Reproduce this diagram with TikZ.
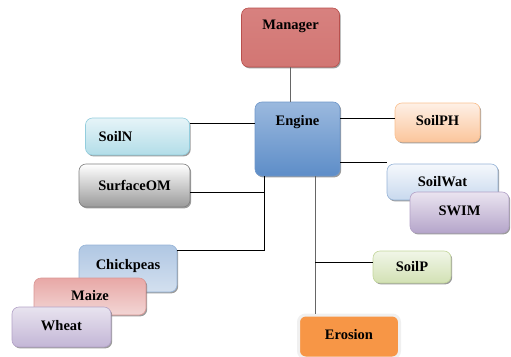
\documentclass[tikz,border=0pt]{standalone}
\usepackage{fontspec}
\setmainfont{Liberation Serif}
\newfontfamily\boxfont{Liberation Serif}
\usetikzlibrary{shadows}
\definecolor{mgrA}{HTML}{D7817F}
\definecolor{mgrB}{HTML}{C0504D}
\definecolor{mgrC}{HTML}{D27673}
\definecolor{mgrE}{HTML}{B9504D}
\definecolor{engA}{HTML}{9BB9DE}
\definecolor{engB}{HTML}{4F81BD}
\definecolor{engC}{HTML}{5D8DC8}
\definecolor{engE}{HTML}{6F97CA}
\definecolor{nA}{HTML}{E6F4F8}
\definecolor{nB}{HTML}{B2DDE8}
\definecolor{nE}{HTML}{93CDDD}
\definecolor{sA}{HTML}{FFFFFF}
\definecolor{sB}{HTML}{9A9A9A}
\definecolor{sE}{HTML}{7F7F7F}
\definecolor{phA}{HTML}{FEF0E6}
\definecolor{phB}{HTML}{FBC59B}
\definecolor{phE}{HTML}{FAC090}
\definecolor{wA}{HTML}{F5F8FC}
\definecolor{wB}{HTML}{C8D9EE}
\definecolor{wE}{HTML}{95B3D7}
\definecolor{swA}{HTML}{EAE4F0}
\definecolor{swB}{HTML}{B5A5CA}
\definecolor{swE}{HTML}{8064A2}
\definecolor{cA}{HTML}{B0C7E3}
\definecolor{cB}{HTML}{DCE6F2}
\definecolor{cE}{HTML}{95B3D7}
\definecolor{mzA}{HTML}{E8A8A6}
\definecolor{mzB}{HTML}{F4DEDD}
\definecolor{mzE}{HTML}{D99694}
\definecolor{whA}{HTML}{E8E3EF}
\definecolor{whB}{HTML}{C3B6D6}
\definecolor{whE}{HTML}{B3A2C7}
\definecolor{pA}{HTML}{F1F6E8}
\definecolor{pB}{HTML}{D2E1B4}
\definecolor{pE}{HTML}{C3D69B}
\definecolor{eroF}{HTML}{F79646}
\begin{document}
\begin{tikzpicture}[x=1pt,y=-1pt,
  txt/.style={font=\boxfont\bfseries\fontsize{14.5}{17}\selectfont, inner sep=1pt},
  box/.style={rectangle, rounded corners=7pt, line width=0.6pt, inner sep=2pt,
    font=\boxfont\bfseries\fontsize{14.5}{17}\selectfont,
    drop shadow={shadow xshift=1.2pt, shadow yshift=-1.4pt, fill=black!65, opacity=0.6}},
  conn/.style={line width=0.8pt, draw=black},
  gconn/.style={line width=0.8pt, draw=black!60}]
\useasboundingbox (0,0) rectangle (511,356);

% Manager and Engine
\node[box, draw=mgrE, top color=mgrA, middle color=mgrB, bottom color=mgrC,
  minimum width=98pt, minimum height=59pt] (manager) at (290.5,37.5) {};
\node[txt] (managerlabel) at ([yshift=-19pt]manager.north) {Manager};
\node[box, draw=engE, top color=engA, middle color=engB, bottom color=engC,
  minimum width=85pt, minimum height=74pt] (engine) at (297.5,139) {};
\node[txt] (enginelabel) at ([yshift=-20pt]engine.north) {Engine};

% left side
\node[box, draw=nE, top color=nA, bottom color=nB,
  minimum width=104pt, minimum height=37pt] (soiln) at (137.5,136.5) {SoilN\kern44pt};
\node[box, draw=sE, top color=sA, bottom color=sB,
  minimum width=111pt, minimum height=43pt] (surf) at (134.5,185.5) {SurfaceOM};
\node[box, draw=cE, top color=cA, middle color=cB, bottom color=cB!80!cA,
  minimum width=98pt, minimum height=47pt] (chick) at (128,268.5) {\raisebox{8pt}{Chickpeas}};
\node[box, draw=mzE, top color=mzA, middle color=mzB, bottom color=mzB!85!mzA,
  minimum width=112pt, minimum height=37pt] (maize) at (90,296.5) {\raisebox{2pt}{Maize}};
\node[box, draw=whE, top color=whA, middle color=whA, bottom color=whB,
  minimum width=99pt, minimum height=40pt] (wheat) at (61.5,327) {\raisebox{4pt}{Wheat}};

% right side
\node[box, draw=phE, top color=phA, bottom color=phB,
  minimum width=85pt, minimum height=39pt] (soilph) at (437.5,122.5) {\raisebox{4pt}{SoilPH}};
\node[box, draw=wE, top color=wA, bottom color=wB,
  minimum width=111pt, minimum height=36pt] (soilwat) at (442.5,182) {SoilWat};
\node[box, draw=swE!60, top color=swA, bottom color=swB,
  minimum width=99pt, minimum height=41pt] (swim) at (459.5,212.5) {\raisebox{3pt}{SWIM}};
\node[box, draw=pE, top color=pA, bottom color=pB,
  minimum width=78pt, minimum height=32pt] (soilp) at (412,267) {SoilP};
\node[rectangle, rounded corners=7pt, draw=black!6, line width=3pt, fill=eroF,
  font=\boxfont\bfseries\fontsize{14.5}{17}\selectfont,
  minimum width=101pt, minimum height=43pt] (erosion) at (349,336.5) {\raisebox{4pt}{Erosion}};

% connectors
\draw[gconn] (manager.south) -- (manager.south |- engine.north);

\coordinate (pN) at ([yshift=-6pt]soiln.north east);
\draw[conn] (pN) -- (pN -| engine.west);

\coordinate (busL) at ([xshift=-33.5pt]engine.south);
\coordinate (pS) at ([yshift=-6.5pt]surf.east);
\coordinate (pC) at ([yshift=-6pt]chick.north east);
\draw[conn] (busL) -- (busL |- pC) -- (pC);
\draw[conn] (pS) -- (pS -| busL);

\coordinate (pPH) at ([yshift=4.5pt]soilph.west);
\draw[conn] (pPH -| engine.east) -- (pPH);

\coordinate (pW) at ([yshift=1pt]soilwat.north west);
\draw[conn] (pW -| engine.east) -- (pW);

\coordinate (busR) at ([xshift=17.5pt]engine.south);
\coordinate (pP) at ([yshift=5pt]soilp.west);
\draw[gconn] (busR) -- (busR |- erosion.north);
\draw[conn] (pP -| busR) -- (pP);
\end{tikzpicture}
\end{document}
